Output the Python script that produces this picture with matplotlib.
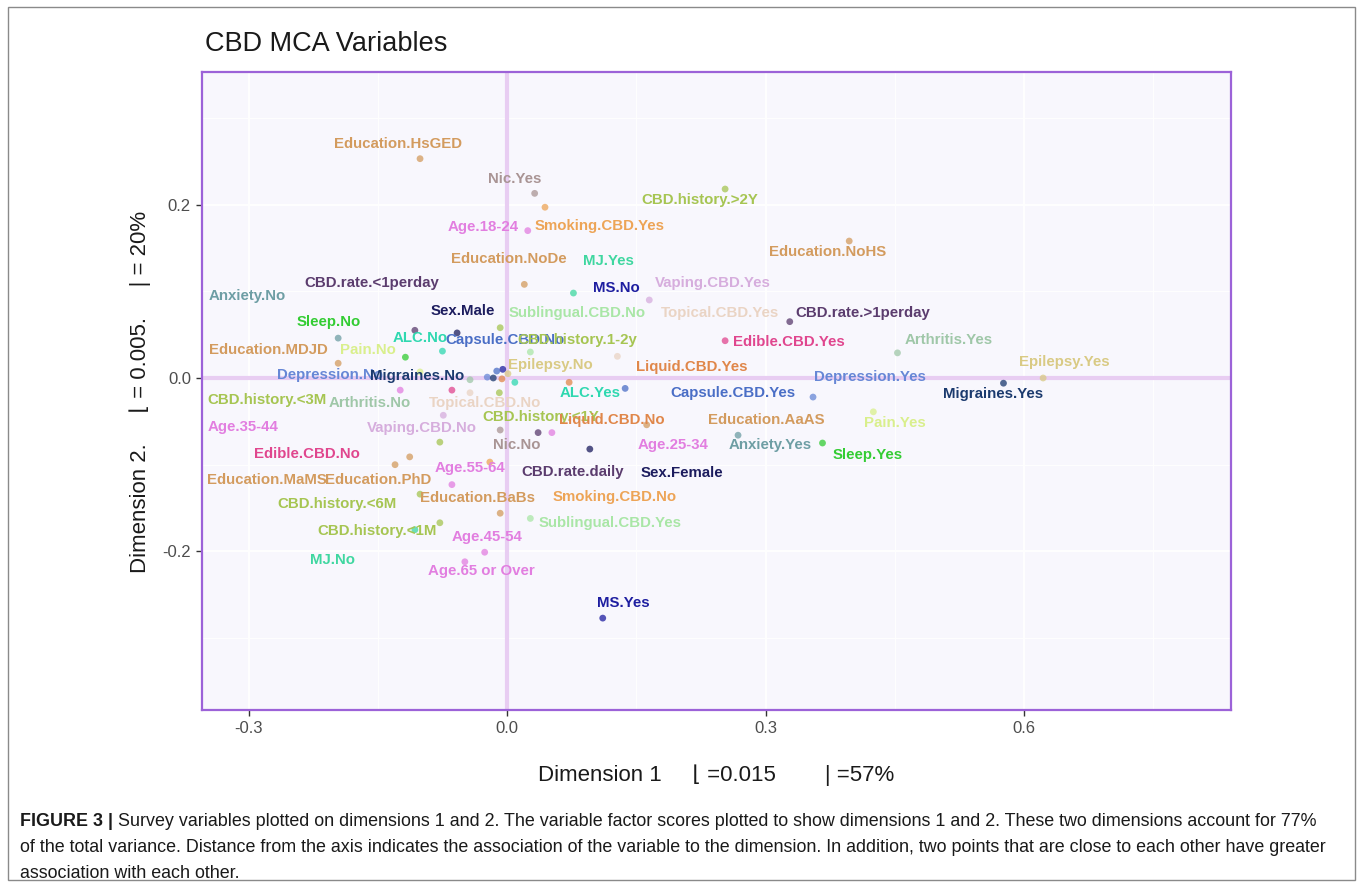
import matplotlib
matplotlib.use("Agg")
import matplotlib.pyplot as plt
from matplotlib.patches import Rectangle

# ---- MCA variable coordinates (Dimension 1, Dimension 2) ----
names = [
    "Education.HsGED", "Nic.Yes", "Smoking.CBD.Yes", "Age.18-24", "CBD.history.>2Y",
    "Education.NoHS", "Education.NoDe", "MJ.Yes", "MS.No", "Vaping.CBD.Yes",
    "Anxiety.No", "CBD.rate.<1perday", "Sex.Male", "Sublingual.CBD.No", "Topical.CBD.Yes",
    "CBD.rate.>1perday", "Sleep.No", "ALC.No", "Capsule.CBD.No", "CBD.history.1-2y",
    "Edible.CBD.Yes", "Arthritis.Yes", "Education.MDJD", "Pain.No", "Epilepsy.No",
    "Liquid.CBD.Yes", "Epilepsy.Yes", "Depression.No", "Migraines.No", "Depression.Yes",
    "Migraines.Yes", "ALC.Yes", "Capsule.CBD.Yes", "CBD.history.<3M", "Arthritis.No",
    "Topical.CBD.No", "CBD.history.<1Y", "Liquid.CBD.No", "Education.AaAS", "Pain.Yes",
    "Age.35-44", "Vaping.CBD.No", "Anxiety.Yes", "Age.25-34", "Sleep.Yes",
    "Edible.CBD.No", "Nic.No", "CBD.rate.daily", "Sex.Female", "Education.MaMS",
    "Education.PhD", "Age.55-64", "CBD.history.<6M", "Education.BaBs", "Smoking.CBD.No",
    "Sublingual.CBD.Yes", "CBD.history.<1M", "Age.45-54", "MJ.No", "Age.65 or Over",
    "MS.Yes",
]
dim1 = [
    -0.101, 0.032, 0.044, 0.024, 0.253,
    0.397, 0.020, 0.077, -0.005, 0.165,
    -0.196, -0.107, -0.058, 0.027, 0.128,
    0.328, -0.118, -0.075, -0.012, -0.008,
    0.253, 0.453, -0.196, -0.101, 0.001,
    0.072, 0.622, -0.023, -0.016, 0.355,
    0.576, 0.009, 0.137, -0.078, -0.043,
    -0.043, -0.009, -0.006, 0.162, 0.425,
    -0.124, -0.074, 0.268, 0.052, 0.366,
    -0.064, -0.008, 0.036, 0.096, -0.130,
    -0.113, -0.064, -0.101, -0.008, -0.020,
    0.027, -0.078, -0.026, -0.107, -0.049,
    0.111,
]
dim2 = [
    0.253, 0.213, 0.197, 0.170, 0.218,
    0.158, 0.108, 0.098, 0.010, 0.090,
    0.046, 0.055, 0.052, 0.030, 0.025,
    0.065, 0.024, 0.031, 0.008, 0.058,
    0.043, 0.029, 0.017, 0.007, 0.005,
    -0.005, 0.000, 0.001, 0.000, -0.022,
    -0.006, -0.005, -0.012, -0.074, -0.002,
    -0.017, -0.017, -0.001, -0.054, -0.039,
    -0.014, -0.043, -0.066, -0.063, -0.075,
    -0.014, -0.060, -0.063, -0.082, -0.100,
    -0.091, -0.123, -0.134, -0.156, -0.097,
    -0.162, -0.167, -0.201, -0.175, -0.212,
    -0.277,
]
x_ticks = [-0.3, 0.0, 0.3, 0.6]
y_ticks = [-0.2, 0.0, 0.2]
title = "CBD MCA Variables"
x_label = "Dimension 1     \u230a =0.015        | =57%"
y_label = "Dimension 2.     \u230a = 0.005.     | = 20%"

# ---- colours per survey question ----
group_colors = {
    "Education": "#D39B5E", "Nic": "#A99494", "Smoking": "#EDA456", "Age": "#E27EE0",
    "CBD.history": "#A6C552", "MJ": "#3FD7A0", "MS": "#1E1EA0", "Vaping": "#D6ADDD",
    "Anxiety": "#6E9EA4", "CBD.rate": "#5B3C6E", "Sex": "#1C1C5E", "Sublingual": "#A9E6A6",
    "Topical": "#EAD4C4", "Sleep": "#33CC33", "ALC": "#2FD8B0", "Capsule": "#4A6EC6",
    "Edible": "#E0468E", "Arthritis": "#9FC7A8", "Pain": "#D9EF8C", "Epilepsy": "#D9CA84",
    "Liquid": "#E0874A", "Depression": "#6787D6", "Migraines": "#1B3A6E",
}


def group_of(name):
    if name.startswith("CBD.history"):
        return "CBD.history"
    if name.startswith("CBD.rate"):
        return "CBD.rate"
    return name.split(".")[0]


# label offsets from each point, in pixels (repelled label placement)
label_offsets = [
    (-22, 15), (-20, 14), (55, -19), (-45, 4), (-25, -11),
    (-22, -11), (-16, 25), (35, 32), (114, 81), (64, 17),
    (-91, 42), (-43, 47), (6, 22), (47, 39), (103, 43),
    (73, 9), (-77, 35), (-22, 13), (8, 31), (77, -12),
    (64, -1), (51, 13), (-70, 13), (-52, 22), (42, 9),
    (123, 15), (21, 16), (-157, 2), (-76, 2), (57, 20),
    (-10, -11), (75, -11), (108, -5), (-173, 42), (-100, -23),
    (15, -10), (41, -24), (110, -41), (120, 5), (22, -11),
    (-157, -37), (-21, -13), (32, -10), (121, -12), (45, -12),
    (-145, -64), (17, -15), (35, -39), (92, -24), (-128, -15),
    (-32, -23), (18, 17), (-83, -10), (-23, 15), (125, -35),
    (80, -5), (-63, -8), (2, 15), (-82, -30), (17, -9),
    (21, 15),
]

W, H = 1363, 883
fig = plt.figure(figsize=(W / 100, H / 100), dpi=100)
fig.patch.set_facecolor("white")

# plot panel in pixel terms
left, right, top, bottom = 202, 1231, 72, 710
ax = fig.add_axes([left / W, 1 - bottom / H, (right - left) / W, (bottom - top) / H])
ax.set_facecolor("#F8F7FD")
ax.set_xlim(-0.354, 0.840)
ax.set_ylim(-0.383, 0.353)

ax.set_xticks(x_ticks)
ax.set_yticks(y_ticks)
ax.set_xticks([-0.15, 0.15, 0.45, 0.75], minor=True)
ax.set_yticks([-0.3, -0.1, 0.1, 0.3], minor=True)
ax.grid(which="major", color="white", lw=1.3, zorder=0)
ax.grid(which="minor", color="white", lw=0.7, zorder=0)
ax.set_axisbelow(True)
ax.tick_params(which="minor", length=0)
ax.tick_params(which="major", length=4, width=1, color="#333333",
               labelcolor="#4D4D4D", labelsize=12, pad=4)
ax.set_xticklabels(["-0.3", "0.0", "0.3", "0.6"], family="Liberation Sans")
ax.set_yticklabels(["-0.2", "0.0", "0.2"], family="Liberation Sans")

for s in ax.spines.values():
    s.set_color("#9C62D8")
    s.set_linewidth(1.6)

ax.axhline(0, color="#E8CDF2", lw=3, zorder=1)
ax.axvline(0, color="#E8CDF2", lw=3, zorder=1)

cols = [group_colors[group_of(n)] for n in names]
ax.scatter(dim1, dim2, s=24, c=cols, alpha=0.75, edgecolors="none", zorder=3)

for n, x, y, c, (dx, dy) in zip(names, dim1, dim2, cols, label_offsets):
    ax.annotate(n, (x, y), xytext=(dx, dy), textcoords="offset pixels",
                ha="center", va="center", color=c, fontsize=10.8,
                fontweight="bold", family="Liberation Sans", zorder=4)

fig.text(205 / W, 1 - 44 / H, title, fontsize=19.5, color="#1A1A1A",
         family="Liberation Sans", ha="left", va="center")
lab_font = ["Liberation Sans", "DejaVu Sans"]
fig.text(716 / W, 1 - 775 / H, x_label, fontsize=16, color="#1A1A1A",
         family=lab_font, ha="center", va="center")
fig.text(140 / W, 1 - 392 / H, y_label, fontsize=16, color="#1A1A1A",
         family=lab_font, ha="center", va="center", rotation=90)

# figure caption
cap_lines = [
    ("FIGURE 3 |", " Survey variables plotted on dimensions 1 and 2. The variable factor scores plotted to show dimensions 1 and 2. These two dimensions account for 77%"),
    ("", "of the total variance. Distance from the axis indicates the association of the variable to the dimension. In addition, two points that are close to each other have greater"),
    ("", "association with each other."),
]
cap_y = [821, 848, 874]
cap_size = 12.9
for (bold, rest), yy in zip(cap_lines, cap_y):
    if bold:
        t = fig.text(20 / W, 1 - yy / H, bold, fontsize=cap_size, fontweight="bold",
                     family="Liberation Sans", color="#1A1A1A", ha="left", va="center")
        fig.canvas.draw()
        bb = t.get_window_extent()
        x0 = bb.x1 / W
    else:
        x0 = 20 / W
    fig.text(x0, 1 - yy / H, rest, fontsize=cap_size, family="Liberation Sans",
             color="#1A1A1A", ha="left", va="center")

# outer frame of the figure panel
fig.add_artist(Rectangle((8 / W, 3 / H), (1355 - 8) / W, (876 - 3) / H,
                         transform=fig.transFigure, fill=False, ec="#8A8A8A", lw=1))

fig.savefig("out.png", dpi=100)
